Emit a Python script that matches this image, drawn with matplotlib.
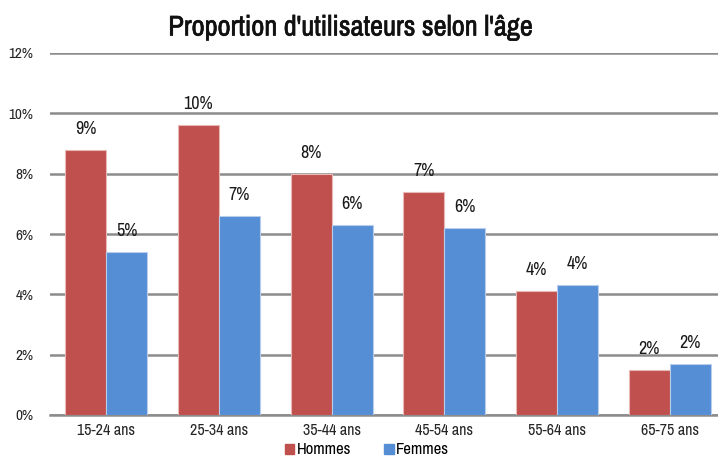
import numpy as np
import matplotlib
matplotlib.use("Agg")
import matplotlib.pyplot as plt
import matplotlib.patheffects as pe
from matplotlib.patches import Patch

plt.rcParams["font.family"] = ["Archivo Narrow", "Liberation Sans", "DejaVu Sans"]

# Data
age_groups = ["15-24 ans", "25-34 ans", "35-44 ans", "45-54 ans", "55-64 ans", "65-75 ans"]
hommes = [8.8, 9.6, 8.0, 7.4, 4.1, 1.5]
femmes = [5.4, 6.6, 6.3, 6.2, 4.3, 1.7]
y_ticks = [0, 2, 4, 6, 8, 10, 12]

RED = "#C0504D"
BLUE = "#558ED5"
GRID = "#8C8C8C"

fig = plt.figure(figsize=(7.18, 4.57), dpi=100)
# plot area runs slightly past the right edge, as in the original
ax = fig.add_axes([50 / 718, 42 / 457, 676 / 718, 362 / 457])

x = np.arange(len(age_groups))
width = 0.365

bars_h = ax.bar(x - width / 2, hommes, width, color=RED, edgecolor="#E8B8B6", linewidth=0.8, zorder=3)
bars_f = ax.bar(x + width / 2, femmes, width, color=BLUE, edgecolor="#B7CDEB", linewidth=0.8, zorder=3)

# value labels, rounded to whole percent
for bars, vals in [(bars_h, hommes), (bars_f, femmes)]:
    for b, v in zip(bars, vals):
        ax.annotate(f"{round(v):.0f}%", (b.get_x() + b.get_width() / 2, v),
                    xytext=(0, 21), textcoords="offset pixels",
                    ha="center", va="center", fontsize=13, color="#1a1a1a", zorder=4)

ax.set_xlim(-0.5, len(age_groups) - 0.5)
ax.set_ylim(0, 12)
ax.set_yticks(y_ticks)
ax.set_yticklabels([f"{t}%" for t in y_ticks], fontsize=11, color="#262626")
ax.set_xticks(x)
ax.set_xticklabels(age_groups, fontsize=11.5, color="#262626")
ax.tick_params(axis="both", length=0, pad=6)
ax.tick_params(axis="y", pad=12)

ax.grid(axis="y", color=GRID, linewidth=1.8, zorder=0)
for s in ["top", "right", "left"]:
    ax.spines[s].set_visible(False)
ax.spines["bottom"].set_color(GRID)
ax.spines["bottom"].set_linewidth(1.8)

# no bold weight for the narrow face, so thicken it a little with a stroke
fig.text(351 / 718, 1 - 28 / 457, "Proportion d'utilisateurs selon l'âge",
         ha="center", va="center", fontsize=20.5, color="#111111",
         path_effects=[pe.withStroke(linewidth=0.45, foreground="#111111")])

handles = [Patch(color=RED, label="Hommes"), Patch(color=BLUE, label="Femmes")]
fig.legend(handles=handles, loc="center", bbox_to_anchor=(367 / 718, 1 - 450 / 457),
           ncol=2, frameon=False, fontsize=12, handlelength=0.55, handleheight=0.55,
           handletextpad=0.15, columnspacing=2.0, borderpad=0)

fig.savefig("out.png", dpi=100)
